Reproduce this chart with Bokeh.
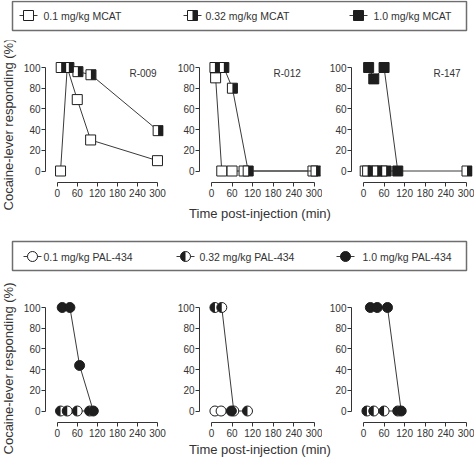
import math
from bokeh.plotting import figure
from bokeh.layouts import column, row
from bokeh.models import Range1d, FixedTicker, Label
from bokeh.embed import file_html
from bokeh.resources import INLINE

# ---------------- data ----------------
TIME_TICKS = [0, 60, 120, 180, 240, 300]
RESP_TICKS = [0, 20, 40, 60, 80, 100]
Y_TITLE = "Cocaine-lever responding (%)"
X_TITLE = "Time post-injection (min)"
MCAT_LABELS = ["0.1 mg/kg MCAT", "0.32 mg/kg MCAT", "1.0 mg/kg MCAT"]
PAL_LABELS = ["0.1 mg/kg PAL-434", "0.32 mg/kg PAL-434", "1.0 mg/kg PAL-434"]
SUBJECTS = ["R-009", "R-012", "R-147"]

# MCAT (top row) : time (min), responding (%)
r009_mcat01_t = [10, 30, 60, 100, 300]
r009_mcat01_r = [0, 100, 69, 30, 10]
r009_mcat032_t = [12, 35, 62, 101, 302]
r009_mcat032_r = [100, 100, 96, 93, 39]
r009_mcat10_t = []
r009_mcat10_r = []

r012_mcat01_t = [12, 30, 60, 95, 296]
r012_mcat01_r = [90, 0, 0, 0, 0]
r012_mcat032_t = [10, 36, 61, 107, 305]
r012_mcat032_r = [100, 100, 80, 0, 0]
r012_mcat10_t = []
r012_mcat10_r = []

r147_mcat01_t = [5, 28, 55]
r147_mcat01_r = [0, 0, 0]
r147_mcat032_t = [12, 40, 66, 302]
r147_mcat032_r = [0, 0, 0, 0]
r147_mcat10_t = [15, 30, 60, 100]
r147_mcat10_r = [100, 89, 100, 0]

# PAL-434 (bottom row)
r009_pal01_t = []
r009_pal01_r = []
r009_pal032_t = [10, 30, 60, 97]
r009_pal032_r = [0, 0, 0, 0]
r009_pal10_t = [15, 38, 67, 108]
r009_pal10_r = [100, 100, 44, 0]

r012_pal01_t = [10, 28]
r012_pal01_r = [0, 0]
r012_pal032_t = [10, 30, 65, 105]
r012_pal032_r = [100, 100, 0, 0]
r012_pal10_t = [58]
r012_pal10_r = [0]

r147_pal01_t = []
r147_pal01_r = []
r147_pal032_t = [10, 30, 60, 100]
r147_pal032_r = [0, 0, 0, 0]
r147_pal10_t = [20, 40, 70, 110]
r147_pal10_r = [100, 100, 100, 0]

# ---------------- style ----------------
FONT = "Liberation Sans"
TXT = "#333333"
INK = "#1e1e1e"
LINE = "#3a3a3a"
X0, X1 = -35, 318
Y0, Y1 = -11.1, 105.8
FRAME_W = 121
MS = 10  # marker size px
PX_PER_MIN = FRAME_W / (X1 - X0)
TOTAL_W = 474
STRIP_W = 20


def blank(width, height, xr, yr):
    p = figure(width=width, height=height, x_range=Range1d(*xr), y_range=Range1d(*yr),
               toolbar_location=None, output_backend="svg")
    p.min_border = 0
    p.axis.visible = False
    p.xgrid.visible = False
    p.ygrid.visible = False
    p.outline_line_color = None
    return p


def draw_series(p, t, r, kind, shape):
    if len(t) > 1:
        p.line(t, r, line_color=LINE, line_width=1)
    if not t:
        return
    if kind == 2:
        p.scatter(t, r, marker=shape, size=MS, fill_color=INK, line_color=INK, line_width=1)
        return
    p.scatter(t, r, marker=shape, size=MS, fill_color="white", line_color=INK, line_width=1)
    if kind == 1:
        if shape == "square":
            dx = (MS / 4) / PX_PER_MIN
            p.rect([v + dx for v in t], r, width=MS / 2, height=MS,
                   width_units="screen", height_units="screen",
                   fill_color=INK, line_color=None)
        else:
            p.wedge(t, r, radius=MS / 2, radius_units="screen",
                    start_angle=math.pi / 2, end_angle=3 * math.pi / 2,
                    fill_color=INK, line_color=None)


def panel(width, height, bl, br, bt, bb):
    p = figure(width=width, height=height, x_range=Range1d(X0, X1), y_range=Range1d(Y0, Y1),
               toolbar_location=None, output_backend="svg")
    p.min_border_left = bl
    p.min_border_right = br
    p.min_border_top = bt
    p.min_border_bottom = bb
    p.outline_line_color = None
    p.xgrid.visible = False
    p.ygrid.visible = False
    for ax in (p.xaxis[0], p.yaxis[0]):
        ax.axis_line_color = TXT
        ax.axis_line_width = 1
        ax.major_tick_line_color = TXT
        ax.major_tick_in = 0
        ax.major_tick_out = 4
        ax.minor_tick_line_color = None
        ax.major_label_text_font = FONT
        ax.major_label_text_font_size = "10px"
        ax.major_label_text_color = TXT
        ax.major_label_standoff = 2
    p.yaxis.major_label_standoff = 1
    p.xaxis.ticker = FixedTicker(ticks=TIME_TICKS)
    p.yaxis.ticker = FixedTicker(ticks=RESP_TICKS)
    p.xaxis.bounds = (0, 300)
    p.yaxis.bounds = (0, 100)
    return p


def legend_fig(height, box_top, box_bot, yc, items, shape):
    W = TOTAL_W
    p = blank(W, height, (0, W), (height, 0))
    p.quad(left=[12], right=[466], top=[box_top], bottom=[box_bot],
           fill_color=None, line_color="#6e6e6e", line_width=1.5)
    for i, (label, mx, tx) in enumerate(items):
        p.line([mx - 9, mx + 9], [yc, yc], line_color=LINE, line_width=1)
        if i == 2:
            p.scatter([mx], [yc], marker=shape, size=MS, fill_color=INK, line_color=INK)
        else:
            p.scatter([mx], [yc], marker=shape, size=MS, fill_color="white", line_color=INK)
            if i == 1:
                if shape == "square":
                    p.rect([mx + MS / 4], [yc], width=MS / 2, height=MS, fill_color=INK, line_color=None)
                else:
                    p.wedge([mx], [yc], radius=MS / 2, radius_units="screen",
                            start_angle=math.pi / 2, end_angle=3 * math.pi / 2,
                            fill_color=INK, line_color=None)
        p.add_layout(Label(x=tx, y=yc, text=label, text_font=FONT, text_font_size="10.5px",
                           text_color=TXT, text_baseline="middle", text_align="left"))
    return p


def ytitle_strip(height, yc_from_top):
    p = blank(STRIP_W, height, (0, STRIP_W), (height, 0))
    p.add_layout(Label(x=8, y=yc_from_top, text=Y_TITLE, angle=math.pi / 2, text_font=FONT,
                       text_font_size="13px", text_color=TXT,
                       text_align="center", text_baseline="middle"))
    return p


def xtitle_strip(height, xc, yc_from_top):
    W = TOTAL_W - STRIP_W
    p = blank(W, height, (0, W), (height, 0))
    p.add_layout(Label(x=xc - STRIP_W, y=yc_from_top, text=X_TITLE, text_font=FONT,
                       text_font_size="13px", text_color=TXT,
                       text_align="center", text_baseline="middle"))
    return p


top_leg = legend_fig(40, 1, 30, 15,
                     [(MCAT_LABELS[0], 28, 43), (MCAT_LABELS[1], 192, 205), (MCAT_LABELS[2], 358, 373)],
                     "square")
bot_leg = legend_fig(59, 19, 48, 34,
                     [(PAL_LABELS[0], 32, 43), (PAL_LABELS[1], 185, 199), (PAL_LABELS[2], 345, 362)],
                     "circle")

mcat_sets = [
    [(r009_mcat01_t, r009_mcat01_r), (r009_mcat032_t, r009_mcat032_r), (r009_mcat10_t, r009_mcat10_r)],
    [(r012_mcat01_t, r012_mcat01_r), (r012_mcat032_t, r012_mcat032_r), (r012_mcat10_t, r012_mcat10_r)],
    [(r147_mcat01_t, r147_mcat01_r), (r147_mcat032_t, r147_mcat032_r), (r147_mcat10_t, r147_mcat10_r)],
]
pal_sets = [
    [(r009_pal01_t, r009_pal01_r), (r009_pal032_t, r009_pal032_r), (r009_pal10_t, r009_pal10_r)],
    [(r012_pal01_t, r012_pal01_r), (r012_pal032_t, r012_pal032_r), (r012_pal10_t, r012_pal10_r)],
    [(r147_pal01_t, r147_pal01_r), (r147_pal032_t, r147_pal032_r), (r147_pal10_t, r147_pal10_r)],
]

# (figure width, border left, border right): frames at x = 42, 199, 351
geom = [(148, 22, 5), (154, 31, 2), (152, 29, 2)]
label_x = [216, 181, 204]

top_figs = []
for i in range(3):
    w, bl, br = geom[i]
    p = panel(w, 165, bl, br, 21, 23)
    for kind, (t, r) in enumerate(mcat_sets[i]):
        draw_series(p, t, r, kind, "square")
    p.add_layout(Label(x=label_x[i], y=94, text=SUBJECTS[i], text_font=FONT, text_font_size="10px",
                       text_color=TXT, text_baseline="middle", text_align="left"))
    top_figs.append(p)

bot_figs = []
for i in range(3):
    w, bl, br = geom[i]
    p = panel(w, 159, bl, br, 20, 18)
    for kind, (t, r) in enumerate(pal_sets[i]):
        draw_series(p, t, r, kind, "circle")
    bot_figs.append(p)

row_a = row(ytitle_strip(182, 84), column(row(*top_figs), xtitle_strip(17, 259.5, 8)))
row_b = row(ytitle_strip(176, 87), column(row(*bot_figs), xtitle_strip(17, 259.5, 9)))

layout = column(top_leg, row_a, bot_leg, row_b)
open("out.html", "w").write(file_html(layout, INLINE))
